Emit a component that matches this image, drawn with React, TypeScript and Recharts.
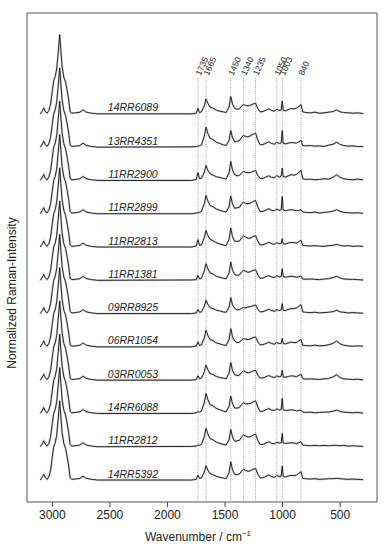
import { ComposedChart, Line, Scatter, XAxis, YAxis, ReferenceLine, ReferenceArea } from "recharts"

const FONT = "'Liberation Sans', Arial, sans-serif"

const SAMPLES = [
  "14RR6089", "13RR4351", "11RR2900", "11RR2899", "11RR2813", "11RR1381",
  "09RR8925", "06RR1054", "03RR0053", "14RR6088", "11RR2812", "14RR5392",
]

const PEAKS = [1735, 1665, 1450, 1340, 1235, 1050, 1003, 840]
const X_TICKS = [3000, 2500, 2000, 1500, 1000, 500]

// CH-stretch region, same shape for every sample
const CH_WN = [3105, 3085, 3075, 3062, 3046, 3030, 3015, 3000, 2988, 2975, 2962, 2950, 2936, 2926, 2915, 2900, 2885, 2872, 2858, 2845, 2830, 2800, 2760, 2733, 2710, 2690, 2660, 2630, 2610]
const CH_SHAPE = [0.0, 0.1, 0.18, 0.08, 0.02, 0.1, 0.3, 0.7, 1.0, 1.12, 1.35, 1.8, 2.38, 1.9, 1.42, 1.1, 0.95, 0.72, 0.42, 0.06, 0.02, 0.03, 0.05, 0.12, 0.06, 0.04, 0.02, 0.01, 0.0]

// fingerprint region
const FP_WN = [1790, 1750, 1735, 1722, 1705, 1680, 1665, 1650, 1630, 1605, 1575, 1545, 1515, 1490, 1465, 1450, 1435, 1415, 1395, 1375, 1355, 1340, 1320, 1300, 1280, 1260, 1235, 1215, 1195, 1170, 1145, 1120, 1095, 1070, 1050, 1030, 1012, 1003, 995, 975, 950, 925, 900, 880, 860, 840, 825, 800, 760, 720, 680, 640, 600, 560, 530, 500, 470, 430, 390, 350, 300]

const s14RR6089 = [0.00, 0.02, 0.17, 0.04, 0.06, 0.25, 0.45, 0.32, 0.20, 0.17, 0.11, 0.08, 0.06, 0.04, 0.21, 0.52, 0.29, 0.16, 0.14, 0.15, 0.24, 0.28, 0.25, 0.24, 0.26, 0.29, 0.32, 0.16, 0.06, 0.07, 0.11, 0.15, 0.10, 0.08, 0.14, 0.10, 0.12, 0.38, 0.11, 0.09, 0.13, 0.16, 0.15, 0.17, 0.22, 0.28, 0.06, 0.04, 0.03, 0.05, 0.02, 0.03, 0.05, 0.07, 0.12, 0.06, 0.04, 0.03, 0.02, 0.03, 0.01]
const s13RR4351 = [0.01, 0.02, 0.03, 0.04, 0.07, 0.33, 0.60, 0.42, 0.27, 0.23, 0.15, 0.11, 0.07, 0.05, 0.20, 0.50, 0.28, 0.15, 0.18, 0.19, 0.30, 0.35, 0.32, 0.31, 0.34, 0.38, 0.42, 0.21, 0.07, 0.08, 0.12, 0.16, 0.11, 0.09, 0.15, 0.11, 0.13, 0.50, 0.12, 0.10, 0.12, 0.14, 0.13, 0.12, 0.16, 0.20, 0.05, 0.04, 0.05, 0.03, 0.04, 0.02, 0.06, 0.09, 0.15, 0.08, 0.05, 0.03, 0.04, 0.02, 0.02]
const s11RR2900 = [0.00, 0.03, 0.24, 0.05, 0.06, 0.25, 0.45, 0.31, 0.20, 0.16, 0.11, 0.09, 0.06, 0.04, 0.23, 0.57, 0.31, 0.17, 0.14, 0.15, 0.23, 0.27, 0.24, 0.23, 0.24, 0.27, 0.30, 0.15, 0.06, 0.06, 0.10, 0.14, 0.09, 0.08, 0.15, 0.10, 0.13, 0.37, 0.12, 0.10, 0.14, 0.17, 0.16, 0.18, 0.24, 0.30, 0.05, 0.03, 0.04, 0.02, 0.03, 0.05, 0.04, 0.10, 0.17, 0.09, 0.05, 0.03, 0.02, 0.04, 0.02]
const s11RR2899 = [0.00, 0.02, 0.03, 0.04, 0.07, 0.30, 0.55, 0.39, 0.25, 0.21, 0.14, 0.10, 0.07, 0.05, 0.21, 0.53, 0.29, 0.16, 0.18, 0.19, 0.30, 0.35, 0.31, 0.30, 0.32, 0.36, 0.40, 0.20, 0.07, 0.07, 0.11, 0.15, 0.10, 0.09, 0.14, 0.10, 0.12, 0.52, 0.11, 0.09, 0.11, 0.12, 0.11, 0.09, 0.10, 0.12, 0.05, 0.04, 0.03, 0.05, 0.02, 0.04, 0.05, 0.08, 0.12, 0.07, 0.04, 0.03, 0.02, 0.03, 0.01]
const s11RR2813 = [0.00, 0.03, 0.22, 0.05, 0.06, 0.28, 0.50, 0.35, 0.23, 0.19, 0.13, 0.09, 0.06, 0.04, 0.23, 0.57, 0.31, 0.17, 0.17, 0.18, 0.28, 0.33, 0.30, 0.26, 0.27, 0.31, 0.34, 0.17, 0.06, 0.07, 0.10, 0.14, 0.10, 0.08, 0.13, 0.10, 0.11, 0.25, 0.10, 0.09, 0.12, 0.14, 0.13, 0.12, 0.16, 0.20, 0.05, 0.04, 0.03, 0.04, 0.03, 0.02, 0.04, 0.05, 0.08, 0.05, 0.03, 0.04, 0.02, 0.03, 0.02]
const s11RR1381 = [0.01, 0.02, 0.15, 0.04, 0.06, 0.28, 0.50, 0.35, 0.22, 0.19, 0.12, 0.09, 0.06, 0.05, 0.22, 0.55, 0.30, 0.17, 0.15, 0.16, 0.26, 0.30, 0.27, 0.24, 0.26, 0.29, 0.32, 0.16, 0.06, 0.07, 0.11, 0.14, 0.10, 0.08, 0.14, 0.10, 0.12, 0.35, 0.11, 0.09, 0.11, 0.12, 0.11, 0.09, 0.11, 0.13, 0.04, 0.03, 0.04, 0.03, 0.02, 0.04, 0.05, 0.08, 0.12, 0.07, 0.04, 0.03, 0.03, 0.02, 0.01]
const s09RR8925 = [0.00, 0.02, 0.12, 0.04, 0.05, 0.22, 0.40, 0.28, 0.18, 0.15, 0.10, 0.08, 0.05, 0.04, 0.19, 0.48, 0.26, 0.15, 0.11, 0.12, 0.16, 0.18, 0.17, 0.20, 0.21, 0.23, 0.26, 0.13, 0.05, 0.06, 0.09, 0.13, 0.09, 0.07, 0.12, 0.09, 0.11, 0.30, 0.10, 0.09, 0.13, 0.15, 0.15, 0.17, 0.22, 0.27, 0.05, 0.04, 0.03, 0.04, 0.02, 0.03, 0.04, 0.06, 0.10, 0.05, 0.04, 0.02, 0.03, 0.02, 0.01]
const s06RR1054 = [0.00, 0.03, 0.15, 0.04, 0.06, 0.27, 0.50, 0.35, 0.22, 0.19, 0.12, 0.09, 0.06, 0.04, 0.22, 0.55, 0.30, 0.17, 0.13, 0.14, 0.21, 0.25, 0.23, 0.22, 0.24, 0.27, 0.30, 0.15, 0.06, 0.07, 0.10, 0.14, 0.10, 0.08, 0.13, 0.10, 0.11, 0.26, 0.10, 0.09, 0.12, 0.14, 0.13, 0.13, 0.18, 0.22, 0.05, 0.04, 0.03, 0.05, 0.03, 0.04, 0.06, 0.11, 0.18, 0.09, 0.05, 0.03, 0.02, 0.03, 0.02]
const s03RR0053 = [0.00, 0.02, 0.13, 0.04, 0.06, 0.25, 0.45, 0.32, 0.20, 0.17, 0.11, 0.08, 0.06, 0.04, 0.21, 0.53, 0.29, 0.16, 0.14, 0.15, 0.24, 0.28, 0.25, 0.22, 0.24, 0.27, 0.30, 0.15, 0.06, 0.07, 0.10, 0.14, 0.10, 0.08, 0.13, 0.10, 0.12, 0.30, 0.10, 0.09, 0.11, 0.13, 0.12, 0.10, 0.14, 0.17, 0.05, 0.03, 0.04, 0.03, 0.02, 0.04, 0.05, 0.10, 0.16, 0.08, 0.04, 0.03, 0.02, 0.03, 0.01]
const s14RR6088 = [0.00, 0.02, 0.05, 0.04, 0.07, 0.33, 0.60, 0.42, 0.27, 0.23, 0.15, 0.11, 0.07, 0.05, 0.21, 0.52, 0.29, 0.16, 0.16, 0.18, 0.27, 0.32, 0.29, 0.29, 0.30, 0.34, 0.38, 0.19, 0.06, 0.07, 0.11, 0.15, 0.10, 0.09, 0.14, 0.10, 0.12, 0.45, 0.11, 0.09, 0.10, 0.11, 0.10, 0.08, 0.09, 0.10, 0.04, 0.03, 0.04, 0.02, 0.03, 0.04, 0.04, 0.07, 0.10, 0.06, 0.04, 0.03, 0.02, 0.03, 0.01]
const s11RR2812 = [0.01, 0.02, 0.05, 0.04, 0.07, 0.30, 0.55, 0.39, 0.25, 0.21, 0.14, 0.10, 0.07, 0.05, 0.21, 0.52, 0.29, 0.16, 0.18, 0.19, 0.30, 0.35, 0.32, 0.29, 0.30, 0.34, 0.38, 0.19, 0.07, 0.07, 0.11, 0.15, 0.10, 0.09, 0.14, 0.11, 0.12, 0.40, 0.11, 0.10, 0.11, 0.12, 0.11, 0.10, 0.12, 0.15, 0.05, 0.04, 0.03, 0.04, 0.03, 0.04, 0.03, 0.04, 0.04, 0.03, 0.04, 0.02, 0.03, 0.02, 0.01]
const s14RR5392 = [0.00, 0.02, 0.15, 0.05, 0.06, 0.24, 0.43, 0.30, 0.19, 0.16, 0.11, 0.08, 0.06, 0.04, 0.22, 0.55, 0.30, 0.17, 0.16, 0.18, 0.27, 0.32, 0.29, 0.26, 0.28, 0.32, 0.35, 0.18, 0.06, 0.07, 0.11, 0.15, 0.10, 0.08, 0.14, 0.10, 0.12, 0.42, 0.11, 0.09, 0.12, 0.14, 0.13, 0.15, 0.20, 0.25, 0.05, 0.04, 0.03, 0.04, 0.02, 0.03, 0.04, 0.04, 0.05, 0.04, 0.03, 0.02, 0.03, 0.02, 0.01]

const FP = [s14RR6089, s13RR4351, s11RR2900, s11RR2899, s11RR2813, s11RR1381, s09RR8925, s06RR1054, s03RR0053, s14RR6088, s11RR2812, s14RR5392]

const STEP = 1 // vertical offset between spectra
const Y_MIN = -0.66
const Y_MAX = 14.03
const PEAK_TOP = 12.08
const LABEL_WN = 2300

const WN = [...CH_WN, ...FP_WN]
const table = WN.map((wn, k) => {
  const row: Record<string, number> = { wn }
  SAMPLES.forEach((_, i) => {
    const v = k < CH_WN.length ? CH_SHAPE[k] : FP[i][k - CH_WN.length]
    row["s" + i] = v + (SAMPLES.length - 1 - i) * STEP
  })
  return row
})

const nameMarks = SAMPLES.map((name, i) => ({ wn: LABEL_WN, y: (SAMPLES.length - 1 - i) * STEP, name }))
const peakMarks = PEAKS.map((p) => ({ wn: p, y: PEAK_TOP, name: String(p) }))

const NameLabel = (p: any) => (
  <text x={p.cx} y={p.cy - 2.5} textAnchor="middle" fontSize={10.5} fontStyle="italic" fontFamily={FONT} fill="#222">
    {p.payload.name}
  </text>
)

const PeakLabel = (p: any) => {
  const x = p.cx + 2.5
  const y = p.cy - 2
  return (
    <text x={x} y={y} transform={`rotate(-65 ${x} ${y})`} fontSize={8.5} fontFamily={FONT} fill="#222">
      {p.payload.name}
    </text>
  )
}

export default function App() {
  return (
    <div style={{ position: "absolute", left: 0, top: 0, background: "#fff" }}>
      <ComposedChart width={390} height={550} data={table} margin={{ top: 13, right: 13, bottom: 18, left: 0 }}>
        <XAxis
          dataKey="wn" type="number" domain={[180, 3220]} reversed allowDataOverflow
          ticks={X_TICKS} axisLine={false} tickSize={5} tickMargin={3} height={30}
          tickLine={{ stroke: "#444" }}
          tick={{ fontSize: 12, fill: "#222", fontFamily: FONT }}
          label={() => (
            <text x={198} y={541} textAnchor="middle" fontSize={12} fontFamily={FONT} fill="#222">
              Wavenumber / cm<tspan dy={-5} fontSize={8}>−1</tspan>
            </text>
          )}
        />
        <YAxis
          type="number" domain={[Y_MIN, Y_MAX]} allowDataOverflow width={27}
          tick={false} axisLine={false} tickLine={false}
          label={() => (
            <text x={16} y={293} transform="rotate(-90 16 293)" textAnchor="middle" fontSize={12} fontFamily={FONT} fill="#222">
              Normalized Raman-Intensity
            </text>
          )}
        />
        <ReferenceArea x1={3220} x2={180} y1={Y_MIN} y2={Y_MAX} fill="none" stroke="#555" ifOverflow="visible" />
        {PEAKS.map((p) => (
          <ReferenceLine key={p} segment={[{ x: p, y: PEAK_TOP }, { x: p, y: Y_MIN }]} stroke="#888" strokeWidth={0.8} strokeDasharray="1 1.2" />
        ))}
        {SAMPLES.map((s, i) => (
          <Line key={"g" + s} dataKey={"s" + i} type="linear" stroke="#d6d6d6" strokeWidth={2.2} dot={false} activeDot={false} isAnimationActive={false} />
        ))}
        {SAMPLES.map((s, i) => (
          <Line key={"b" + s} dataKey={"s" + i} type="linear" stroke="#111" strokeWidth={0.9} dot={false} activeDot={false} isAnimationActive={false} />
        ))}
        <Scatter data={nameMarks} dataKey="y" shape={NameLabel} isAnimationActive={false} />
        <Scatter data={peakMarks} dataKey="y" shape={PeakLabel} isAnimationActive={false} />
      </ComposedChart>
    </div>
  )
}
